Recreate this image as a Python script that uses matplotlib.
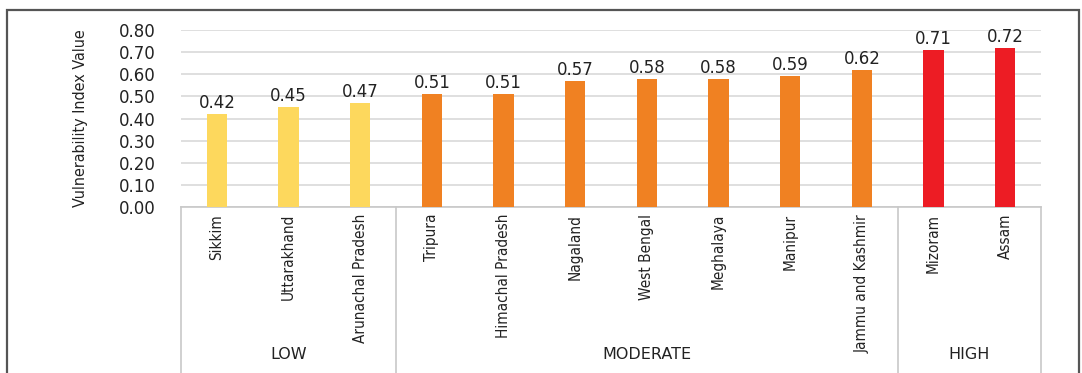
import matplotlib.pyplot as plt
from matplotlib.patches import Rectangle

states = ['Sikkim', 'Uttarakhand', 'Arunachal Pradesh', 'Tripura', 'Himachal Pradesh',
          'Nagaland', 'West Bengal', 'Meghalaya', 'Manipur', 'Jammu and Kashmir',
          'Mizoram', 'Assam']
values = [0.42, 0.45, 0.47, 0.51, 0.51, 0.57, 0.58, 0.58, 0.59, 0.62, 0.71, 0.72]
groups = ['LOW', 'MODERATE', 'HIGH']
group_sizes = [3, 7, 2]
group_colors = ['#fdd85d', '#f08122', '#ed1c24']
yticks = [0.0, 0.1, 0.2, 0.3, 0.4, 0.5, 0.6, 0.7, 0.8]

W, H = 1082, 373
fig = plt.figure(figsize=(W / 100, H / 100), dpi=100)
fig.patches.append(Rectangle((7 / W, -0.1), 1072 / W, 1.1 - 10 / H, transform=fig.transFigure,
                             fill=False, edgecolor='#555555', linewidth=1.6))

ax = fig.add_axes([181 / W, 1 - 207 / H, 860 / W, 177 / H])

colors = []
for c, n in zip(group_colors, group_sizes):
    colors += [c] * n

x = list(range(len(states)))
ax.bar(x, values, width=0.28, color=colors, zorder=3)
for xi, v in zip(x, values):
    ax.text(xi, v + 0.009, f'{v:.2f}', ha='center', va='bottom', fontsize=12,
            color='#222222', clip_on=False)

ax.set_xlim(-0.5, len(states) - 0.5)
ax.set_ylim(0, 0.8)
ax.set_yticks(yticks)
ax.set_yticklabels([f'{t:.2f}' for t in yticks], fontsize=12, color='#222222')
ax.yaxis.grid(True, color='#d9d9d9', linewidth=1.2, zorder=0)
ax.tick_params(axis='y', length=0, pad=18)
ax.set_xticks(x)
ax.set_xticklabels(states, rotation=90, va='top', fontsize=11, fontstretch='condensed',
                   color='#222222')
ax.tick_params(axis='x', length=0, pad=5)
for s in ['top', 'right', 'left']:
    ax.spines[s].set_visible(False)
ax.spines['bottom'].set_color('#c8c8c8')
ax.spines['bottom'].set_linewidth(1.2)

# group separators and labels under the axis
trans = ax.get_xaxis_transform()
edges = [-0.5]
for n in group_sizes:
    edges.append(edges[-1] + n)
for e in edges:
    ax.plot([e, e], [0, -1.0], transform=trans, color='#c8c8c8', linewidth=1.2, clip_on=False)
for g, a, b in zip(groups, edges[:-1], edges[1:]):
    ax.text((a + b) / 2, -0.836, g, transform=trans, ha='center', va='center',
            fontsize=11.5, color='#222222')

fig.text(80 / W, 1 - 118 / H, 'Vulnerability Index Value', rotation=90, ha='center',
         va='center', fontsize=11.5, fontstretch='condensed', color='#222222')

fig.savefig('out.png', dpi=100)
